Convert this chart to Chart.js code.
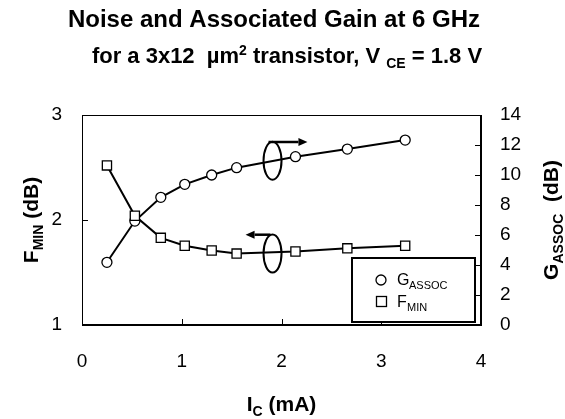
<!DOCTYPE html>
<html>
<head>
<meta charset="utf-8">
<script src="https://cdn.jsdelivr.net/npm/chart.js@4.4.1/dist/chart.umd.min.js"></script>
<style>
  html, body { margin: 0; padding: 0; background: #fff; }
  #wrap { width: 565px; height: 419px; }
</style>
</head>
<body>
<div id="wrap"><canvas id="chart" width="565" height="419"></canvas></div>
<script>
// ── Data ──────────────────────────────────────────────────────────────────────
const currentMA = [0.25, 0.53, 0.79, 1.03, 1.30, 1.55, 2.14, 2.66, 3.24];
const fMin      = [2.52, 2.04, 1.83, 1.755, 1.71, 1.68, 1.70, 1.73, 1.755];
const gAssoc    = [4.18, 6.93, 8.51, 9.38, 10.0, 10.49, 11.22, 11.73, 12.33];
const xTicks    = [0, 1, 2, 3, 4];
const fTicks    = [1, 2, 3];
const gTicks    = [0, 2, 4, 6, 8, 10, 12, 14];

const FONT = "'Liberation Sans', Arial, sans-serif";

// draw a run of text pieces (for subscripts / superscripts)
function drawRuns(ctx, runs, cx, baseline) {
  const widths = runs.map(r => {
    ctx.font = `${r.bold ? "bold " : ""}${r.size}px ${r.font || FONT}`;
    return ctx.measureText(r.t).width;
  });
  const total = widths.reduce((a, b) => a + b, 0);
  let x = cx - total / 2;
  ctx.textAlign = "left";
  ctx.textBaseline = "alphabetic";
  runs.forEach((r, i) => {
    ctx.font = `${r.bold ? "bold " : ""}${r.size}px ${r.font || FONT}`;
    ctx.fillText(r.t, x, baseline + (r.dy || 0));
    x += widths[i];
  });
}

function drawArrow(ctx, x1, y1, x2, y2) {
  const ang = Math.atan2(y2 - y1, x2 - x1);
  const hl = 9, hw = 4;
  ctx.beginPath();
  ctx.moveTo(x1, y1);
  ctx.lineTo(x2 - hl * Math.cos(ang), y2 - hl * Math.sin(ang));
  ctx.stroke();
  ctx.beginPath();
  ctx.moveTo(x2, y2);
  ctx.lineTo(x2 - hl * Math.cos(ang) + hw * Math.sin(ang), y2 - hl * Math.sin(ang) - hw * Math.cos(ang));
  ctx.lineTo(x2 - hl * Math.cos(ang) - hw * Math.sin(ang), y2 - hl * Math.sin(ang) + hw * Math.cos(ang));
  ctx.closePath();
  ctx.fill();
}

// ── Decorations: frame, inner ticks, titles, legend, annotations ─────────────
const decor = {
  id: "decor",
  afterDraw(chart) {
    const { ctx, chartArea: a, scales } = chart;
    const sx = scales.x, sl = scales.y, sr = scales.y1;
    ctx.save();
    ctx.strokeStyle = "#000";
    ctx.fillStyle = "#000";

    // frame
    ctx.lineWidth = 1;
    ctx.strokeRect(a.left + 0.5, a.top + 0.5, a.right - a.left - 1, a.bottom - a.top - 1);

    // inward tick marks
    ctx.beginPath();
    xTicks.slice(1, -1).forEach(v => {
      const px = Math.round(sx.getPixelForValue(v)) + 0.5;
      ctx.moveTo(px, a.bottom); ctx.lineTo(px, a.bottom - 6);
    });
    fTicks.slice(1, -1).forEach(v => {
      const py = Math.round(sl.getPixelForValue(v)) + 0.5;
      ctx.moveTo(a.left, py); ctx.lineTo(a.left + 6, py);
    });
    gTicks.slice(1, -1).forEach(v => {
      const py = Math.round(sr.getPixelForValue(v)) + 0.5;
      ctx.moveTo(a.right, py); ctx.lineTo(a.right - 6, py);
    });
    ctx.stroke();

    // titles
    drawRuns(ctx, [{ t: "Noise and Associated Gain at 6 GHz", size: 24, bold: true }], 274, 27);
    drawRuns(ctx, [
      { t: "for a 3x12  ", size: 22, bold: true },
      { t: "\u00b5", size: 22, bold: true },
      { t: "m", size: 22, bold: true },
      { t: "2", size: 14, bold: true, dy: -8 },
      { t: " transistor, V ", size: 22, bold: true },
      { t: "CE", size: 14, bold: true, dy: 5 },
      { t: " = 1.8 V", size: 22, bold: true }
    ], 287, 63);

    // axis titles
    drawRuns(ctx, [
      { t: "I", size: 21, bold: true },
      { t: "C", size: 14, bold: true, dy: 5 },
      { t: " (mA)", size: 21, bold: true }
    ], (a.left + a.right) / 2, 411);

    ctx.save();
    ctx.translate(38, (a.top + a.bottom) / 2);
    ctx.rotate(-Math.PI / 2);
    drawRuns(ctx, [
      { t: "F", size: 21, bold: true },
      { t: "MIN", size: 14, bold: true, dy: 5 },
      { t: " (dB)", size: 21, bold: true }
    ], 0, 0);
    ctx.restore();

    ctx.save();
    ctx.translate(558, (a.top + a.bottom) / 2);
    ctx.rotate(-Math.PI / 2);
    drawRuns(ctx, [
      { t: "G", size: 21, bold: true },
      { t: "ASSOC", size: 14, bold: true, dy: 5 },
      { t: "  (dB)", size: 21, bold: true }
    ], 0, 0);
    ctx.restore();

    // legend
    ctx.fillStyle = "#fff";
    ctx.fillRect(352, 258, 123, 64);
    ctx.lineWidth = 2;
    ctx.strokeRect(352, 258, 123, 64);
    ctx.lineWidth = 1.3;
    ctx.beginPath();
    ctx.arc(381, 280, 5, 0, Math.PI * 2);
    ctx.stroke();
    ctx.strokeRect(376.5, 296.5, 10, 10);
    ctx.fillStyle = "#000";
    ctx.font = `16px ${FONT}`;
    ctx.textAlign = "left";
    ctx.fillText("G", 397, 285);
    ctx.font = `11px ${FONT}`;
    ctx.fillText("ASSOC", 409, 289);
    ctx.font = `16px ${FONT}`;
    ctx.fillText("F", 397, 307);
    ctx.font = `11px ${FONT}`;
    ctx.fillText("MIN", 407, 311);

    // annotation ellipses and arrows
    ctx.lineWidth = 2;
    const ex = sx.getPixelForValue(1.91);
    const e1y = sr.getPixelForValue(10.95);
    const e2y = sl.getPixelForValue(1.68);
    ctx.beginPath();
    ctx.ellipse(ex, e1y, 9, 19, 0, 0, Math.PI * 2);
    ctx.stroke();
    ctx.beginPath();
    ctx.ellipse(ex, e2y, 9, 19, 0, 0, Math.PI * 2);
    ctx.stroke();
    ctx.lineWidth = 2.5;
    const a1y = sr.getPixelForValue(12.2);
    drawArrow(ctx, sx.getPixelForValue(1.87), a1y, sx.getPixelForValue(2.26), a1y);
    const a2y = sl.getPixelForValue(1.86);
    drawArrow(ctx, sx.getPixelForValue(1.89), a2y, sx.getPixelForValue(1.64), a2y);

    ctx.restore();
  }
};

const tickFont = { family: FONT, size: 19 };

new Chart(document.getElementById("chart"), {
  type: "line",
  data: {
    datasets: [
      {
        label: "F_MIN",
        data: currentMA.map((x, i) => ({ x, y: fMin[i] })),
        yAxisID: "y",
        borderColor: "#000",
        borderWidth: 2,
        pointStyle: "rect",
        pointRadius: 6.5,
        pointBorderWidth: 1.3,
        pointBackgroundColor: "#fff",
        pointBorderColor: "#000",
        tension: 0
      },
      {
        label: "G_ASSOC",
        data: currentMA.map((x, i) => ({ x, y: gAssoc[i] })),
        yAxisID: "y1",
        borderColor: "#000",
        borderWidth: 2,
        pointStyle: "circle",
        pointRadius: 5,
        pointBorderWidth: 1.3,
        pointBackgroundColor: "#fff",
        pointBorderColor: "#000",
        tension: 0
      }
    ]
  },
  options: {
    responsive: false,
    devicePixelRatio: 1,
    animation: false,
    layout: { padding: { top: 115, left: 0, right: 0, bottom: 0 } },
    plugins: { legend: { display: false }, title: { display: false }, tooltip: { enabled: false } },
    scales: {
      x: {
        type: "linear", min: 0, max: 4,
        afterBuildTicks: s => { s.ticks = xTicks.map(v => ({ value: v })); },
        ticks: { font: tickFont, color: "#000", padding: 25 },
        grid: { display: false, drawTicks: false },
        border: { display: true, color: "#000", width: 1 },
        afterFit: s => { s.height = 94; }
      },
      y: {
        position: "left", min: 1, max: 3,
        afterBuildTicks: s => { s.ticks = fTicks.map(v => ({ value: v })); },
        ticks: { font: tickFont, color: "#000", padding: 20 },
        grid: { display: false, drawTicks: false },
        border: { display: true, color: "#000", width: 1 },
        afterFit: s => { s.width = 82; }
      },
      y1: {
        position: "right", min: 0, max: 14,
        afterBuildTicks: s => { s.ticks = gTicks.map(v => ({ value: v })); },
        ticks: { font: tickFont, color: "#000", padding: 19 },
        grid: { display: false, drawTicks: false },
        border: { display: true, color: "#000", width: 1 },
        afterFit: s => { s.width = 84; }
      }
    }
  },
  plugins: [decor]
});
</script>
</body>
</html>
